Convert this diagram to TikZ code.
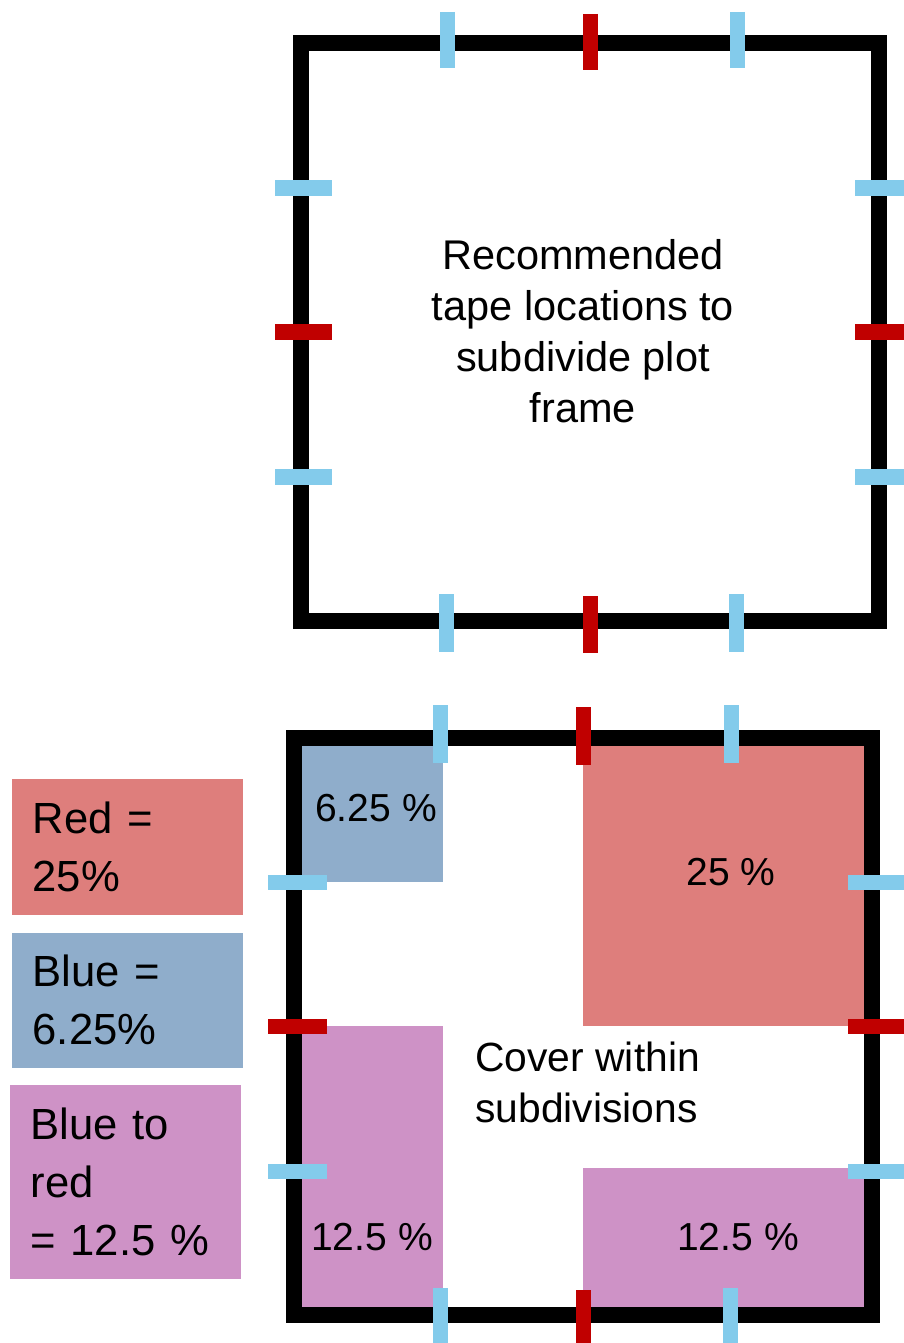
\documentclass[tikz,border=0pt]{standalone}
\usepackage{fontspec}
\setmainfont{Liberation Sans}
\definecolor{tapeblue}{RGB}{131,203,235}
\definecolor{tapered}{RGB}{192,0,0}
\definecolor{redfill}{RGB}{222,126,124}
\definecolor{bluefill}{RGB}{143,173,203}
\definecolor{pinkfill}{RGB}{206,146,198}
\tikzset{
  frameline/.style={draw,line width=0.16cm},
  bluetape/.style={draw,line width=0.15cm,color=tapeblue},
  redtape/.style={draw,line width=0.15cm,color=tapered},
  keybox/.style={anchor=north west,inner xsep=0.21cm,text width=1.89cm,align=left,
    minimum width=2.31cm,font=\fontsize{12.4pt}{16.5pt}\selectfont},
  pct/.style={font=\fontsize{11.1pt}{13pt}\selectfont}
}
\begin{document}
\begin{tikzpicture}[x=0.01cm,y=-0.01cm]
        \useasboundingbox (0,0) rectangle (903,1343);

        % upper frame
        \path[frameline] (301,43) rectangle (879,621);
        \path[bluetape] (447,12) -- (447,68);
        \path[redtape] (590,14) -- (590,70);
        \path[bluetape] (737,12) -- (737,68);
        \path[bluetape] (446,594) -- (446,652);
        \path[redtape] (590,596) -- (590,653);
        \path[bluetape] (736,594) -- (736,652);
        \path[bluetape] (275,188) -- (332,188);
        \path[redtape] (275,332) -- (332,332);
        \path[bluetape] (275,477) -- (332,477);
        \path[bluetape] (855,188) -- (910,188);
        \path[redtape] (855,332) -- (910,332);
        \path[bluetape] (855,477) -- (910,477);
        \node[align=center,font=\fontsize{11.8pt}{14.5pt}\selectfont] (tapetext) at (583,331)
            {Recommended\\tape locations to\\subdivide plot\\frame};

        % lower frame with cover areas
        \path[fill=bluefill] (302,746) rectangle (443,882);
        \path[fill=redfill] (583,746) rectangle (865,1026);
        \path[fill=pinkfill] (302,1026) rectangle (443,1307);
        \path[fill=pinkfill] (583,1168) rectangle (865,1307);
        \path[frameline] (294,738) rectangle (872,1315);
        \path[bluetape] (440,705) -- (440,763);
        \path[redtape] (583,707) -- (583,765);
        \path[bluetape] (731,705) -- (731,763);
        \path[bluetape] (440,1288) -- (440,1350);
        \path[redtape] (583,1290) -- (583,1350);
        \path[bluetape] (730,1288) -- (730,1350);
        \path[bluetape] (268,882) -- (327,882);
        \path[redtape] (268,1026) -- (327,1026);
        \path[bluetape] (268,1171) -- (327,1171);
        \path[bluetape] (848,882) -- (910,882);
        \path[redtape] (848,1026) -- (910,1026);
        \path[bluetape] (848,1171) -- (910,1171);
        \node[pct] (blue1) at (376,808) {6.25 \%};
        \node[pct] (red1) at (731,872) {25 \%};
        \node[pct] (pink1) at (372,1237) {12.5 \%};
        \node[pct] (pink2) at (738,1237) {12.5 \%};
        \node[anchor=west,align=left,font=\fontsize{11.6pt}{14.5pt}\selectfont] (covertext) at (463,1082)
            {Cover within\\subdivisions};

        % key
        \node[keybox,fill=redfill,minimum height=1.36cm] (redkey) at (11,778) {Red =\\25\%};
        \node[keybox,fill=bluefill,minimum height=1.35cm] (bluekey) at (11,932) {Blue =\\6.25\%};
        \node[keybox,fill=pinkfill,minimum height=1.94cm] (pinkkey) at (9,1084) {Blue to\\red\\= 12.5 \%};
    \end{tikzpicture}
\end{document}
